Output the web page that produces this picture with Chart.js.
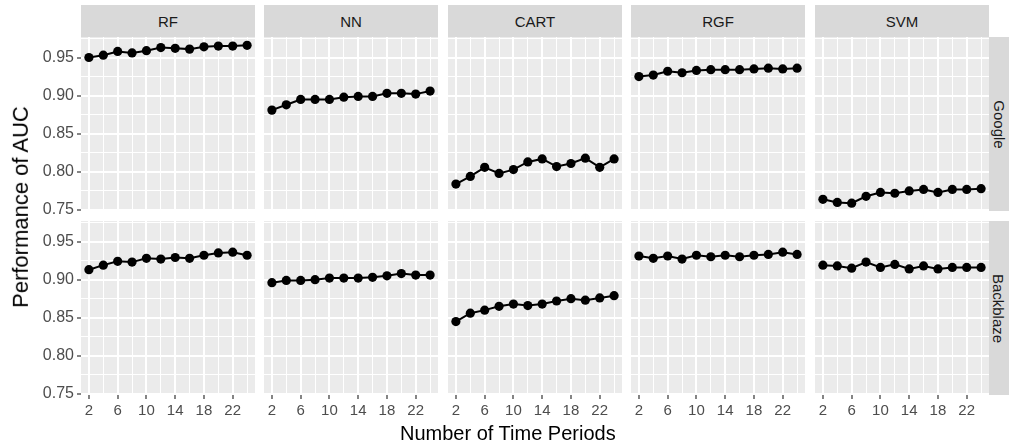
<!DOCTYPE html>
<html><head><meta charset="utf-8">
<script src="https://cdn.jsdelivr.net/npm/chart.js@4"></script>
<style>
html,body{margin:0;padding:0;background:#fff;}
#wrap{position:relative;width:1013px;height:446px;overflow:hidden;font-family:"Liberation Sans",Arial,sans-serif;}
canvas{position:absolute;}
.strip{position:absolute;background:#D9D9D9;color:#1A1A1A;font-size:15px;display:flex;align-items:center;justify-content:center;white-space:nowrap;}
.rtext{transform:rotate(90deg);}
.title{position:absolute;color:#000;white-space:nowrap;}
</style></head>
<body><div id="wrap"></div>
<script>
// ---- data ----
const methods = ["RF", "NN", "CART", "RGF", "SVM"];
const sources = ["Google", "Backblaze"];
const periods = [2, 4, 6, 8, 10, 12, 14, 16, 18, 20, 22, 24];

const googleRF   = [0.950, 0.953, 0.958, 0.956, 0.959, 0.963, 0.962, 0.961, 0.964, 0.965, 0.965, 0.966];
const googleNN   = [0.881, 0.888, 0.895, 0.895, 0.895, 0.898, 0.899, 0.899, 0.903, 0.903, 0.902, 0.906];
const googleCART = [0.784, 0.794, 0.806, 0.798, 0.803, 0.813, 0.817, 0.807, 0.811, 0.818, 0.806, 0.817];
const googleRGF  = [0.925, 0.927, 0.932, 0.930, 0.933, 0.934, 0.934, 0.934, 0.935, 0.936, 0.935, 0.936];
const googleSVM  = [0.764, 0.760, 0.759, 0.768, 0.773, 0.772, 0.775, 0.777, 0.773, 0.777, 0.777, 0.778];

const backblazeRF   = [0.913, 0.919, 0.924, 0.923, 0.928, 0.927, 0.929, 0.928, 0.932, 0.935, 0.936, 0.932];
const backblazeNN   = [0.896, 0.899, 0.899, 0.900, 0.902, 0.902, 0.902, 0.903, 0.905, 0.908, 0.906, 0.906];
const backblazeCART = [0.845, 0.856, 0.860, 0.865, 0.868, 0.866, 0.868, 0.872, 0.875, 0.873, 0.876, 0.879];
const backblazeRGF  = [0.931, 0.928, 0.931, 0.927, 0.932, 0.930, 0.932, 0.930, 0.932, 0.933, 0.936, 0.933];
const backblazeSVM  = [0.919, 0.918, 0.915, 0.923, 0.916, 0.920, 0.914, 0.918, 0.914, 0.916, 0.916, 0.916];

const xMajorTicks = [2, 6, 10, 14, 18, 22];
const xMinorTicks = [4, 8, 12, 16, 20, 24];
const yMajorTicks = [0.75, 0.80, 0.85, 0.90, 0.95];
const yMinorTicks = [0.775, 0.825, 0.875, 0.925, 0.975];

const xTitle = "Number of Time Periods";
const yTitle = "Performance of AUC";

// ---- layout ----
const values = [
  [googleRF, googleNN, googleCART, googleRGF, googleSVM],
  [backblazeRF, backblazeNN, backblazeCART, backblazeRGF, backblazeSVM]
];
const PW = 174, PH = 174;
const panelLeft = [81, 264, 448, 631, 815];
const panelTop = [37, 221];
const X_MIN = 0.9, X_MAX = 25.1, Y_MIN = 0.7487, Y_MAX = 0.9769;
const AXH = 30, EXTRA = 12;
const FONT = "'Liberation Sans', Arial, sans-serif";

const wrap = document.getElementById('wrap');

const bgPlugin = {
  id: 'panelBg',
  beforeDraw(chart) {
    const a = chart.chartArea, ctx = chart.ctx;
    ctx.save();
    ctx.fillStyle = '#EBEBEB';
    ctx.fillRect(a.left, a.top, a.right - a.left, a.bottom - a.top);
    ctx.restore();
  }
};

function setTicks(list) {
  return function (s) { s.ticks = list.map(v => ({ value: v })); };
}

function makeChart(r, c) {
  const L = panelLeft[c], T = panelTop[r];
  const showY = c === 0, showX = r === 1;
  const cl = showY ? 0 : L;
  const cw = showY ? L + PW : PW;
  const padBottom = (showY && !showX) ? EXTRA : 0;
  const ch = PH + (showX ? AXH : 0) + padBottom;
  const cv = document.createElement('canvas');
  cv.width = cw; cv.height = ch;
  cv.style.left = cl + 'px'; cv.style.top = T + 'px';
  cv.style.width = cw + 'px'; cv.style.height = ch + 'px';
  wrap.appendChild(cv);
  const vals = values[r][c];
  new Chart(cv, {
    type: 'line',
    data: {
      datasets: [{
        data: periods.map((p, i) => ({ x: p, y: vals[i] })),
        borderColor: '#000', backgroundColor: '#000',
        borderWidth: 2, pointRadius: 4.6, pointHoverRadius: 4.6,
        pointBorderWidth: 0, tension: 0, clip: false,
        xAxisID: 'x', yAxisID: 'y'
      }]
    },
    options: {
      responsive: false, animation: false, devicePixelRatio: 1, events: [],
      layout: { autoPadding: false, padding: { left: 0, right: 0, top: 0, bottom: padBottom } },
      plugins: { legend: { display: false }, tooltip: { enabled: false } },
      scales: {
        xMinor: {
          type: 'linear', axis: 'x', position: 'bottom', min: X_MIN, max: X_MAX,
          ticks: { display: false }, border: { display: false },
          grid: { color: '#FFFFFF', lineWidth: 1, drawTicks: false },
          afterBuildTicks: setTicks(xMinorTicks)
        },
        yMinor: {
          type: 'linear', axis: 'y', position: 'left', min: Y_MIN, max: Y_MAX,
          ticks: { display: false }, border: { display: false },
          grid: { color: '#FFFFFF', lineWidth: 1, drawTicks: false },
          afterBuildTicks: setTicks(yMinorTicks)
        },
        x: {
          type: 'linear', position: 'bottom', min: X_MIN, max: X_MAX,
          border: { display: false },
          grid: { color: '#FFFFFF', lineWidth: 2, drawTicks: showX, tickLength: 4, tickColor: '#333333', tickWidth: 1.2 },
          ticks: {
            display: showX, autoSkip: false, maxRotation: 0, minRotation: 0, padding: 3,
            color: '#4D4D4D', font: { family: FONT, size: 15 },
            callback: v => String(v)
          },
          afterBuildTicks: setTicks(xMajorTicks),
          afterFit: s => { if (showX) { s.height = AXH; } s.paddingLeft = 0; s.paddingRight = 0; }
        },
        y: {
          type: 'linear', position: 'left', min: Y_MIN, max: Y_MAX,
          border: { display: false },
          grid: { color: '#FFFFFF', lineWidth: 2, drawTicks: showY, tickLength: 4, tickColor: '#333333', tickWidth: 1.2 },
          ticks: {
            display: showY, autoSkip: false, padding: 3,
            color: '#4D4D4D', font: { family: FONT, size: 16 },
            callback: v => v.toFixed(2)
          },
          afterBuildTicks: setTicks(yMajorTicks),
          afterFit: s => { if (showY) { s.width = L; } s.paddingTop = 0; s.paddingBottom = 0; }
        }
      }
    },
    plugins: [bgPlugin]
  });
}

for (let r = 0; r < 2; r++) for (let c = 0; c < 5; c++) makeChart(r, c);

// strips
methods.forEach((m, c) => {
  const d = document.createElement('div');
  d.className = 'strip';
  d.style.left = panelLeft[c] + 'px'; d.style.top = '5px';
  d.style.width = PW + 'px'; d.style.height = '32px';
  d.textContent = m;
  wrap.appendChild(d);
});
sources.forEach((s, r) => {
  const d = document.createElement('div');
  d.className = 'strip';
  d.style.left = (panelLeft[4] + PW) + 'px'; d.style.top = panelTop[r] + 'px';
  d.style.width = '20px'; d.style.height = PH + 'px';
  const t = document.createElement('div');
  t.className = 'rtext';
  t.textContent = s;
  d.appendChild(t);
  wrap.appendChild(d);
});

// axis titles
const xt = document.createElement('div');
xt.className = 'title';
xt.style.fontSize = '20px';
xt.textContent = xTitle;
wrap.appendChild(xt);
xt.style.left = (508 - xt.offsetWidth / 2) + 'px';
xt.style.top = (433 - xt.offsetHeight / 2) + 'px';

const yt = document.createElement('div');
yt.className = 'title';
yt.style.fontSize = '22px';
yt.textContent = yTitle;
wrap.appendChild(yt);
yt.style.left = (21 - yt.offsetWidth / 2) + 'px';
yt.style.top = (207 - yt.offsetHeight / 2) + 'px';
yt.style.transform = 'rotate(-90deg)';
</script>
</body></html>
